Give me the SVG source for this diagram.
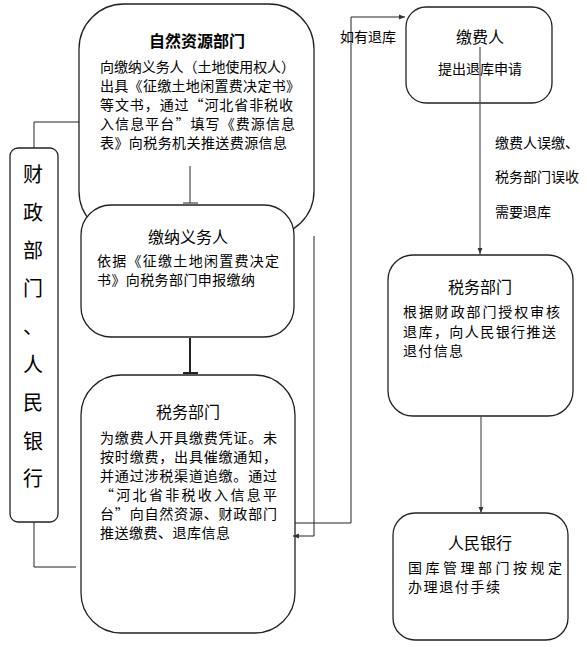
<svg xmlns="http://www.w3.org/2000/svg" width="587" height="647" viewBox="0 0 587 647">
<style>
.box{fill:#fff;stroke:#222;stroke-width:1.3}
.t{font-family:"Noto Sans CJK SC","Noto Sans",sans-serif;font-size:14px;fill:#000}
.h{font-family:"Noto Sans CJK SC","Noto Sans",sans-serif;font-size:16px;fill:#000;text-anchor:middle}
.v{font-family:"Noto Sans CJK SC","Noto Sans",sans-serif;font-size:20px;fill:#000;text-anchor:middle}
.c{fill:none;stroke:#222;stroke-width:1}
.g{fill:none;stroke:#555;stroke-width:1.2}
</style>
<defs>
<marker id="ar" viewBox="0 0 10 10" refX="10" refY="5" markerWidth="6" markerHeight="6" orient="auto" markerUnits="userSpaceOnUse">
<path d="M0,1 L10,5 L0,9 z" fill="#333"/>
</marker>
</defs>
<rect width="587" height="647" fill="#fff"/>

<g id="czbm">
<rect class="box" x="10" y="148" width="48" height="374" rx="8"/>
<text class="v" x="33" y="182">财</text>
<text class="v" x="33" y="220">政</text>
<text class="v" x="33" y="258">部</text>
<text class="v" x="33" y="296">门</text>
<text class="v" x="33" y="334">、</text>
<text class="v" x="33" y="372">人</text>
<text class="v" x="33" y="410">民</text>
<text class="v" x="33" y="449">银</text>
<text class="v" x="33" y="486">行</text>
</g>

<g id="zrzy">
<rect class="box" x="79" y="4" width="235" height="232" rx="45"/>
<text class="h" x="197" y="47" font-weight="bold" font-size="17">自然资源部门</text>
<text class="t" x="100" y="72" textLength="195" lengthAdjust="spacing">向缴纳义务人（土地使用权人）</text>
<text class="t" x="100" y="91" textLength="200" lengthAdjust="spacing">出具《征缴土地闲置费决定书》</text>
<text class="t" x="100" y="110" textLength="193" lengthAdjust="spacing">等文书，通过“河北省非税收</text>
<text class="t" x="100" y="129" textLength="195" lengthAdjust="spacing">入信息平台”填写《费源信息</text>
<text class="t" x="100" y="148" textLength="187" lengthAdjust="spacing">表》向税务机关推送费源信息</text>
</g>

<g id="jnywr">
<rect class="box" x="81" y="205" width="213" height="132" rx="30"/>
<text class="h" x="188" y="243">缴纳义务人</text>
<text class="t" x="97" y="266" textLength="182" lengthAdjust="spacing">依据《征缴土地闲置费决定</text>
<text class="t" x="97" y="285" textLength="158" lengthAdjust="spacing">书》向税务部门申报缴纳</text>
</g>

<g id="swbm1">
<rect class="box" x="81" y="375" width="214" height="258" rx="40"/>
<text class="h" x="188" y="418">税务部门</text>
<text class="t" x="100" y="443" textLength="177" lengthAdjust="spacing">为缴费人开具缴费凭证。未</text>
<text class="t" x="100" y="462" textLength="177" lengthAdjust="spacing">按时缴费，出具催缴通知，</text>
<text class="t" x="100" y="481" textLength="177" lengthAdjust="spacing">并通过涉税渠道追缴。通过</text>
<text class="t" x="100" y="500" textLength="177" lengthAdjust="spacing">“河北省非税收入信息平</text>
<text class="t" x="100" y="519" textLength="177" lengthAdjust="spacing">台”向自然资源、财政部门</text>
<text class="t" x="100" y="538" textLength="130" lengthAdjust="spacing">推送缴费、退库信息</text>
</g>

<g id="jfr">
<rect class="box" x="406" y="7" width="146" height="96" rx="20"/>
<text class="h" x="480" y="43">缴费人</text>
<text class="t" x="480" y="74" text-anchor="middle">提出退库申请</text>
</g>

<g id="swbm2">
<rect class="box" x="388" y="255" width="185" height="161" rx="25"/>
<text class="h" x="480" y="293">税务部门</text>
<text class="t" x="403" y="317" textLength="157" lengthAdjust="spacing">根据财政部门授权审核</text>
<text class="t" x="403" y="337" textLength="153" lengthAdjust="spacing">退库，向人民银行推送</text>
<text class="t" x="403" y="356" textLength="60" lengthAdjust="spacing">退付信息</text>
</g>

<g id="rmyh">
<rect class="box" x="393" y="513" width="175" height="127" rx="22"/>
<text class="h" x="480" y="549">人民银行</text>
<text class="t" x="408" y="573" textLength="154" lengthAdjust="spacing">国库管理部门按规定</text>
<text class="t" x="408" y="592" textLength="92" lengthAdjust="spacing">办理退付手续</text>
</g>

<g id="connectors">
<polyline class="c" points="34,148 34,122 79,122"/>
<polyline class="c" points="34,522 34,567 76,567"/>
<line class="c" x1="190" y1="166" x2="190" y2="203"/>
<line class="c" x1="183" y1="203" x2="198" y2="203"/>
<line x1="190" y1="338" x2="190" y2="373" stroke="#222" stroke-width="2"/>
<line x1="183" y1="373" x2="198" y2="373" stroke="#222" stroke-width="2"/>
<polyline class="c" points="314,236 314,536 293,536" marker-end="url(#ar)"/>
<polyline class="c" points="295,523 351,523 351,17 405,17" marker-end="url(#ar)"/>
<line class="g" x1="480" y1="47" x2="480" y2="254" marker-end="url(#ar)"/>
<line class="g" x1="481" y1="416" x2="481" y2="513" marker-end="url(#ar)"/>
<text class="t" x="340" y="42">如有退库</text>
<text class="t" x="495" y="148">缴费人误缴、</text>
<text class="t" x="495" y="182">税务部门误收</text>
<text class="t" x="495" y="217">需要退库</text>
</g>
</svg>
